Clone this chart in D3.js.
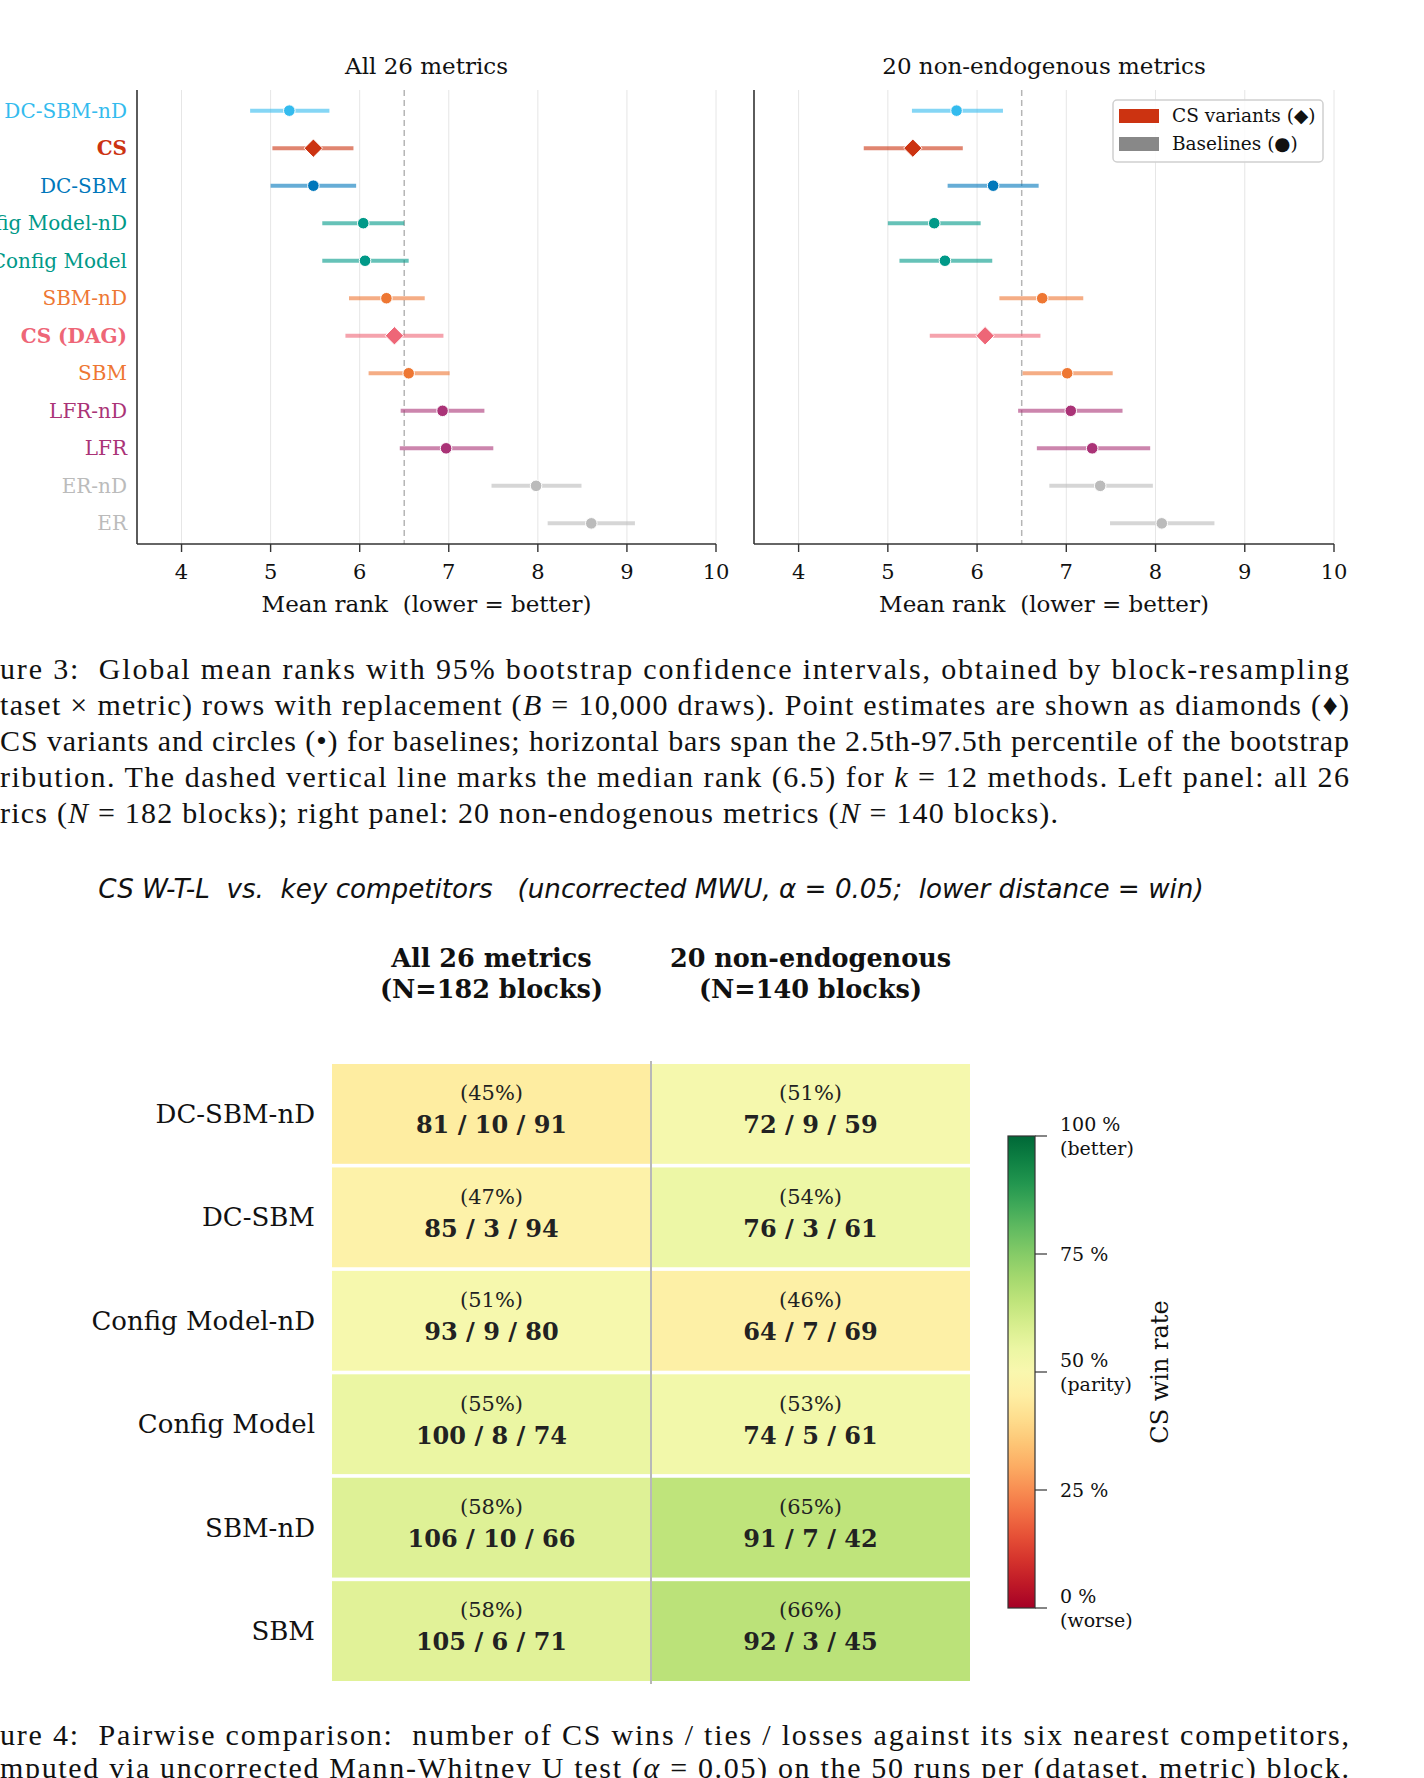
<!DOCTYPE html>
<meta charset="utf-8">
<script src="https://d3js.org/d3.v7.min.js"></script>
<style>
  body { margin: 0; background: #fff; }
  svg { display: block; }
  .mpl { font-family: "DejaVu Serif", serif; }
  .cap { font-family: "Liberation Serif", "DejaVu Serif", serif; fill: #111; }
  .grid line { stroke: #e6e6e6; stroke-width: 1; }
  .spine { stroke: #333; stroke-width: 1.6; }
</style>
<body></body>
<script>

// ---- Figure 3 data: mean rank + 95% bootstrap CI ----
var methods = ["DC-SBM-nD", "CS", "DC-SBM", "Config Model-nD", "Config Model", "SBM-nD",
               "CS (DAG)", "SBM", "LFR-nD", "LFR", "ER-nD", "ER"];
var methodColors = ["#33BBEE", "#CC3311", "#0077BB", "#009988", "#009988", "#EE7733",
                    "#EE6677", "#EE7733", "#AA3377", "#AA3377", "#BBBBBB", "#BBBBBB"];
var csVariants = ["CS", "CS (DAG)"];

var allMean = [5.21, 5.48, 5.48, 6.04, 6.06, 6.30, 6.39, 6.55, 6.93, 6.97, 7.98, 8.60];
var allLo   = [4.77, 5.02, 5.00, 5.58, 5.58, 5.88, 5.84, 6.10, 6.46, 6.45, 7.48, 8.11];
var allHi   = [5.66, 5.93, 5.96, 6.50, 6.55, 6.73, 6.94, 7.01, 7.40, 7.50, 8.49, 9.09];

var nonMean = [5.77, 5.28, 6.18, 5.52, 5.64, 6.73, 6.09, 7.01, 7.05, 7.29, 7.38, 8.07];
var nonLo   = [5.27, 4.73, 5.67, 5.00, 5.13, 6.25, 5.47, 6.51, 6.46, 6.67, 6.81, 7.49];
var nonHi   = [6.29, 5.84, 6.69, 6.04, 6.17, 7.19, 6.71, 7.52, 7.63, 7.94, 7.97, 8.66];

var rankTicks = [4, 5, 6, 7, 8, 9, 10];
var medianRank = 6.5;

// ---- Figure 4 data: CS wins / ties / losses ----
var competitors = ["DC-SBM-nD", "DC-SBM", "Config Model-nD", "Config Model", "SBM-nD", "SBM"];
var allWins   = [81, 85, 93, 100, 106, 105];
var allTies   = [10, 3, 9, 8, 10, 6];
var allLosses = [91, 94, 80, 74, 66, 71];
var nonWins   = [72, 76, 64, 74, 91, 92];
var nonTies   = [9, 3, 7, 5, 7, 3];
var nonLosses = [59, 61, 69, 61, 42, 45];
var cbTicks  = [0, 25, 50, 75, 100];
var cbLabels = [["0 %", "(worse)"], ["25 %"], ["50 %", "(parity)"], ["75 %"], ["100 %", "(better)"]];

var W = 1424, H = 1778;
var svg = d3.select("body").append("svg").attr("width", W).attr("height", H);

// ================= Figure 3 =================
var axTop = 90, axBottom = 544;
var y = d3.scalePoint().domain(methods).range([axTop, axBottom]).padding(0.55);
var colorOf = d3.scaleOrdinal().domain(methods).range(methodColors);

function rankPanel(x0, x1, title, mean, lo, hi, showLabels) {
  var x = d3.scaleLinear().domain([3.5, 10]).range([x0, x1]);
  var g = svg.append("g").attr("class", "mpl");
  var rows = methods.map(function(m, i) { return {name: m, mean: mean[i], lo: lo[i], hi: hi[i]}; });

  g.append("g").attr("class", "grid").selectAll("line")
    .data(rankTicks).enter().append("line")
      .attr("x1", x).attr("x2", x).attr("y1", axTop).attr("y2", axBottom);

  g.append("line")
    .attr("x1", x(medianRank)).attr("x2", x(medianRank))
    .attr("y1", axTop).attr("y2", axBottom)
    .attr("stroke", "#b5b5b5").attr("stroke-width", 1.5).attr("stroke-dasharray", "6,4");

  g.selectAll(".ci").data(rows).enter().append("line")
    .attr("x1", function(d) { return x(d.lo); })
    .attr("x2", function(d) { return x(d.hi); })
    .attr("y1", function(d) { return y(d.name); })
    .attr("y2", function(d) { return y(d.name); })
    .attr("stroke", function(d) { return colorOf(d.name); })
    .attr("stroke-opacity", 0.6)
    .attr("stroke-width", 4);

  g.selectAll(".pt").data(rows).enter().append("path")
    .attr("transform", function(d) { return "translate(" + x(d.mean) + "," + y(d.name) + ")"; })
    .attr("d", function(d) {
      return csVariants.indexOf(d.name) >= 0
        ? d3.symbol().type(d3.symbolDiamond2).size(215)()
        : d3.symbol().type(d3.symbolCircle).size(105)();
    })
    .attr("fill", function(d) { return colorOf(d.name); })
    .attr("stroke", "#fff").attr("stroke-width", 1);

  // spines + ticks
  g.append("line").attr("class", "spine")
    .attr("x1", x0).attr("x2", x0).attr("y1", axTop).attr("y2", axBottom);
  g.append("line").attr("class", "spine")
    .attr("x1", x0).attr("x2", x1).attr("y1", axBottom).attr("y2", axBottom);
  g.selectAll(".tk").data(rankTicks).enter().append("line")
    .attr("x1", x).attr("x2", x).attr("y1", axBottom).attr("y2", axBottom + 8)
    .attr("stroke", "#333").attr("stroke-width", 1.4);
  g.selectAll(".tl").data(rankTicks).enter().append("text")
    .attr("x", x).attr("y", 572).attr("dy", "0.35em")
    .attr("text-anchor", "middle").attr("font-size", 21).attr("fill", "#111")
    .text(function(d) { return d; });

  g.append("text")
    .attr("x", (x0 + x1) / 2).attr("y", 604).attr("dy", "0.35em")
    .attr("text-anchor", "middle").attr("font-size", 23).attr("fill", "#111")
    .attr("xml:space", "preserve")
    .text("Mean rank  (lower = better)");
  g.append("text")
    .attr("x", (x0 + x1) / 2).attr("y", 66).attr("dy", "0.35em")
    .attr("text-anchor", "middle").attr("font-size", 23).attr("fill", "#111")
    .text(title);

  if (showLabels) {
    g.selectAll(".yl").data(methods).enter().append("text")
      .attr("x", x0 - 10).attr("y", y).attr("dy", "0.35em")
      .attr("text-anchor", "end").attr("font-size", 20)
      .attr("font-weight", function(d) { return csVariants.indexOf(d) >= 0 ? "bold" : "normal"; })
      .attr("fill", colorOf)
      .text(function(d) { return d; });
  }
  return g;
}

rankPanel(137, 716, "All 26 metrics", allMean, allLo, allHi, true);
var right = rankPanel(754, 1334, "20 non-endogenous metrics", nonMean, nonLo, nonHi, false);

// legend
var lg = right.append("g").attr("transform", "translate(1113,100)");
lg.append("rect").attr("width", 210).attr("height", 62).attr("rx", 4)
  .attr("fill", "#fff").attr("fill-opacity", 0.85).attr("stroke", "#cfcfcf").attr("stroke-width", 1.5);
[["CS variants (\u25C6)", "#CC3311"], ["Baselines (\u25CF)", "#888888"]].forEach(function(e, i) {
  lg.append("rect").attr("x", 6).attr("y", 9 + i * 28).attr("width", 40).attr("height", 14).attr("fill", e[1]);
  lg.append("text").attr("x", 59).attr("y", 16 + i * 28).attr("dy", "0.35em")
    .attr("font-size", 18.5).attr("fill", "#111").text(e[0]);
});

// caption for figure 3
var cap3 = [
  [{t: "ure 3:  Global mean ranks with 95% bootstrap confidence intervals, obtained by block-resampling"}],
  [{t: "taset \u00D7 metric) rows with replacement ("}, {t: "B", i: 1}, {t: " = 10,000 draws). Point estimates are shown as diamonds (\u2666)"}],
  [{t: "CS variants and circles (\u2022) for baselines; horizontal bars span the 2.5th-97.5th percentile of the bootstrap"}],
  [{t: "ribution. The dashed vertical line marks the median rank (6.5) for "}, {t: "k", i: 1}, {t: " = 12 methods. Left panel: all 26"}],
  [{t: "rics ("}, {t: "N", i: 1}, {t: " = 182 blocks); right panel: 20 non-endogenous metrics ("}, {t: "N", i: 1}, {t: " = 140 blocks)."}]
];
function caption(lines, y0, step, widths, x0) {
  lines.forEach(function(parts, li) {
    var t = svg.append("text").attr("class", "cap")
      .attr("x", x0 || 0).attr("y", y0 + li * step).attr("dy", "0.35em")
      .attr("font-size", 30).attr("xml:space", "preserve");
    parts.forEach(function(p) {
      t.append("tspan").attr("font-style", p.i ? "italic" : null).text(p.t);
    });
    t.attr("textLength", widths[li]).attr("lengthAdjust", "spacing");
  });
}
caption(cap3, 668, 36, [1349, 1349, 1349, 1349, 1058]);

// ================= Figure 4 =================
svg.append("text")
  .attr("x", 651).attr("y", 889).attr("dy", "0.35em")
  .attr("text-anchor", "middle").attr("font-family", "DejaVu Sans")
  .attr("font-style", "italic").attr("font-size", 26.2).attr("fill", "#111")
  .attr("xml:space", "preserve")
  .text("CS W-T-L  vs.  key competitors   (uncorrected MWU, \u03B1 = 0.05;  lower distance = win)");

var cols = [
  {head: ["All 26 metrics", "(N=182 blocks)"], w: allWins, t: allTies, l: allLosses},
  {head: ["20 non-endogenous", "(N=140 blocks)"], w: nonWins, t: nonTies, l: nonLosses}
];
var hx = d3.scaleBand().domain([0, 1]).range([332, 970]);
var hy = d3.scaleBand().domain(competitors).range([1064, 1681]).paddingInner(0.035).paddingOuter(0);
var winColor = d3.scaleSequential(d3.interpolateRdYlGn).domain([0, 1]);

var hm = svg.append("g").attr("class", "mpl");
var cells = [];
cols.forEach(function(c, ci) {
  competitors.forEach(function(name, ri) {
    var n = c.w[ri] + c.t[ri] + c.l[ri];
    cells.push({col: ci, row: name, w: c.w[ri], t: c.t[ri], l: c.l[ri], rate: c.w[ri] / n});
  });
});
var cell = hm.selectAll(".cell").data(cells).enter().append("g")
  .attr("transform", function(d) { return "translate(" + hx(d.col) + "," + hy(d.row) + ")"; });
cell.append("rect")
  .attr("width", hx.bandwidth()).attr("height", hy.bandwidth())
  .attr("fill", function(d) { return winColor(d.rate); });
cell.append("text")
  .attr("x", hx.bandwidth() / 2).attr("y", hy.bandwidth() / 2 - 21).attr("dy", "0.35em")
  .attr("text-anchor", "middle").attr("font-size", 21).attr("fill", "#222")
  .text(function(d) { return "(" + Math.round(d.rate * 100) + "%)"; });
cell.append("text")
  .attr("x", hx.bandwidth() / 2).attr("y", hy.bandwidth() / 2 + 11).attr("dy", "0.35em")
  .attr("text-anchor", "middle").attr("font-size", 24).attr("font-weight", "bold").attr("fill", "#222")
  .text(function(d) { return d.w + " / " + d.t + " / " + d.l; });

hm.append("line")
  .attr("x1", hx(1)).attr("x2", hx(1)).attr("y1", 1061).attr("y2", 1684)
  .attr("stroke", "#b8b8b8").attr("stroke-width", 2);

hm.selectAll(".rl").data(competitors).enter().append("text")
  .attr("x", 315).attr("y", function(d) { return hy(d) + hy.bandwidth() / 2; }).attr("dy", "0.35em")
  .attr("text-anchor", "end").attr("font-size", 26).attr("fill", "#111")
  .text(function(d) { return d; });

cols.forEach(function(c, ci) {
  c.head.forEach(function(line, li) {
    hm.append("text")
      .attr("x", hx(ci) + hx.bandwidth() / 2).attr("y", 958 + li * 31).attr("dy", "0.35em")
      .attr("text-anchor", "middle").attr("font-size", 25.5).attr("font-weight", "bold").attr("fill", "#111")
      .text(line);
  });
});

// colorbar
var cbX = 1008, cbW = 27;
var cbY = d3.scaleLinear().domain([0, 100]).range([1608, 1136]);
var grad = svg.append("defs").append("linearGradient").attr("id", "cbgrad")
  .attr("x1", 0).attr("x2", 0).attr("y1", 1).attr("y2", 0);
d3.range(0, 1.0001, 0.05).forEach(function(t) {
  grad.append("stop").attr("offset", t).attr("stop-color", winColor(t));
});
hm.append("rect").attr("x", cbX).attr("y", cbY(100)).attr("width", cbW).attr("height", cbY(0) - cbY(100))
  .attr("fill", "url(#cbgrad)").attr("stroke", "#333").attr("stroke-width", 1.2);
hm.selectAll(".cbt").data(cbTicks).enter().append("line")
  .attr("x1", cbX + cbW).attr("x2", cbX + cbW + 12)
  .attr("y1", cbY).attr("y2", cbY).attr("stroke", "#333").attr("stroke-width", 1.2);
cbTicks.forEach(function(v, i) {
  var lines = cbLabels[i];
  var t = hm.append("text").attr("x", cbX + cbW + 25).attr("font-size", 19).attr("fill", "#111");
  lines.forEach(function(s, k) {
    t.append("tspan").attr("x", cbX + cbW + 25)
      .attr("y", cbY(v) + (k - (lines.length - 1) / 2) * 24)
      .attr("dy", "0.35em").text(s);
  });
});
hm.append("text")
  .attr("transform", "translate(1160," + cbY(50) + ") rotate(-90)")
  .attr("dy", "0.35em").attr("text-anchor", "middle").attr("font-size", 24).attr("fill", "#111")
  .text("CS win rate");

// caption for figure 4
var cap4 = [
  [{t: "ure 4:  Pairwise comparison:  number of CS wins / ties / losses against its six nearest competitors,"}],
  [{t: "mputed via uncorrected Mann-Whitney U test ("}, {t: "\u03B1", i: 1}, {t: " = 0.05) on the 50 runs per (dataset, metric) block."}]
];
caption(cap4, 1734, 33, [1349, 1349]);

</script>
